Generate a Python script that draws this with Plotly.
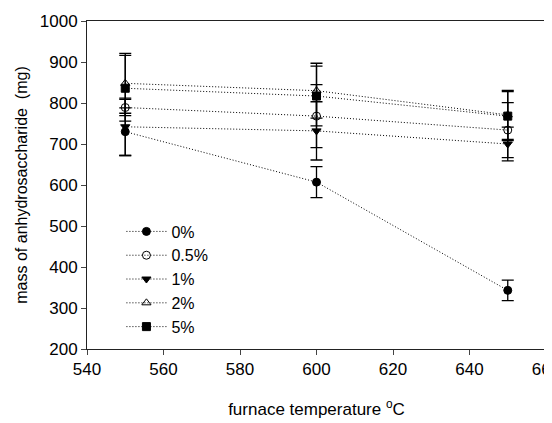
import plotly.graph_objects as go

temps = [550, 600, 650]
labels = ["0%", "0.5%", "1%", "2%", "5%"]
values = {
    "0%": [730, 607, 343],
    "0.5%": [789, 768, 734],
    "1%": [742, 732, 700],
    "2%": [848, 830, 771],
    "5%": [836, 817, 768],
}
errors = {
    "0%": [58, 38, 25],
    "0.5%": [20, 77, 67],
    "1%": [70, 71, 41],
    "2%": [73, 67, 60],
    "5%": [80, 73, 60],
}
symbols = {
    "0%": "circle",
    "0.5%": "circle-open",
    "1%": "triangle-down",
    "2%": "triangle-up-open",
    "5%": "square",
}
xticks = [540, 560, 580, 600, 620, 640, 660]
yticks = [200, 300, 400, 500, 600, 700, 800, 900, 1000]

fig = go.Figure()
for lab in labels:
    fig.add_trace(go.Scatter(
        x=temps, y=values[lab], name=lab, mode="lines+markers",
        line=dict(color="black", width=1, dash="1px,2px"),
        marker=dict(symbol=symbols[lab], size=8, color="black",
                    line=dict(color="black", width=1)),
        error_y=dict(type="data", array=errors[lab], visible=True,
                     color="black", thickness=1.3, width=6),
    ))

fig.update_layout(
    width=544, height=415,
    margin=dict(l=79, r=6, t=13, b=74, autoexpand=False),
    paper_bgcolor="white", plot_bgcolor="white",
    font=dict(family="Liberation Sans, Arial, sans-serif", size=17, color="black"),
    showlegend=True,
    legend=dict(x=0.075, y=0.41, xanchor="left", yanchor="top",
                bgcolor="rgba(0,0,0,0)", font=dict(size=16),
                tracegroupgap=0, itemwidth=40),
)
fig.update_xaxes(
    range=[540, 660], tickvals=xticks, ticks="outside", ticklen=5,
    ticklabeloverflow="allow", automargin=False,
    showline=True, linecolor="#222", linewidth=1, mirror=True,
    showgrid=False, zeroline=False,
    title=dict(text="furnace temperature <sup>o</sup>C", font=dict(size=17), standoff=24),
)
fig.update_yaxes(
    range=[200, 1000], tickvals=yticks, ticks="outside", ticklen=5,
    automargin=False,
    showline=True, linecolor="#222", linewidth=1, mirror=True,
    showgrid=False, zeroline=False,
    title=dict(text="mass of anhydrosaccharide  (mg)", font=dict(size=16), standoff=8),
)
fig.write_html("out.html")
